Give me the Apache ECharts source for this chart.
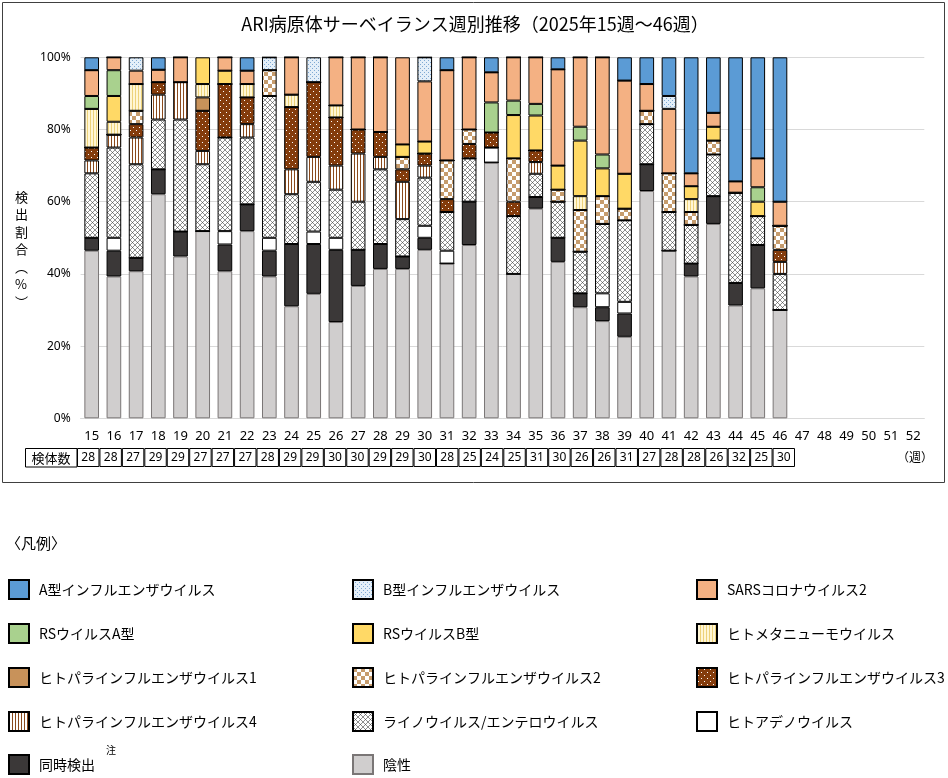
<!DOCTYPE html>
<html><head><meta charset="utf-8">
<script src="https://cdn.jsdelivr.net/npm/echarts@6/dist/echarts.min.js"></script>
<style>html,body{margin:0;padding:0;background:#fff}#c{width:948px;height:778px}</style>
</head><body><div id="c"></div>
<script>
// Weeks shown on the axis
const categories = ['15','16','17','18','19','20','21','22','23','24','25','26','27','28','29','30','31','32','33','34','35','36','37','38','39','40','41','42','43','44','45','46','47','48','49','50','51','52'];
// Table weeks (with data) and specimen counts
const tableWeeks = ['15','16','17','18','19','20','21','22','23','24','25','26','27','28','29','30','31','32','33','34','35','36','37','38','39','40','41','42','43','44','45','46'];
const specimens = [28,28,27,29,29,27,27,27,28,29,29,30,30,29,29,30,28,25,24,25,31,30,26,26,31,27,28,28,26,32,25,30];
// Detection counts per week (weeks 15..46)
const negative = [13,11,11,18,13,14,11,14,11,9,10,8,11,12,12,14,12,12,17,10,18,13,8,7,7,17,13,11,14,10,9,9];
const multiple = [1,2,1,2,2,0,2,2,2,5,4,6,3,2,1,1,0,3,0,0,1,2,1,1,2,2,0,1,2,2,3,0];
const adeno    = [0,1,0,0,0,0,1,0,1,0,1,1,0,0,0,1,1,0,1,0,0,0,0,1,1,0,0,0,0,0,0,0];
const rhino    = [5,7,7,4,9,5,7,5,11,4,4,4,4,6,3,4,3,3,0,4,2,3,3,5,7,3,3,3,3,8,2,3];
const para4    = [1,1,2,2,3,1,0,1,0,2,2,2,4,1,3,1,0,0,0,0,1,0,0,0,0,0,0,0,0,0,0,1];
const para3    = [1,0,1,1,0,3,4,2,0,5,6,4,2,2,1,1,1,1,1,1,1,0,0,0,0,0,0,0,0,0,0,1];
const para1    = [0,0,0,0,0,1,0,0,0,0,0,0,0,0,0,0,0,0,0,0,0,0,0,0,0,0,0,0,0,0,0,0];
const para2    = [0,0,1,0,0,0,0,0,2,0,0,0,0,0,1,0,3,1,0,3,0,1,3,2,1,1,3,1,1,0,0,2];
const metapneumo = [3,1,2,0,0,1,0,1,0,1,0,1,0,0,0,0,0,0,0,0,0,0,1,0,0,0,0,1,0,0,0,0];
const rsvB     = [0,2,0,0,0,2,1,0,0,0,0,0,0,0,1,1,0,0,0,3,3,2,4,2,3,0,0,1,1,0,1,0];
const rsvA     = [1,2,0,0,0,0,0,0,0,0,0,0,0,0,0,0,0,0,2,1,1,0,1,1,0,0,0,0,0,0,1,0];
const sars2    = [2,1,1,1,2,0,1,1,0,3,0,4,6,6,7,5,7,5,2,3,4,8,5,7,8,2,5,1,1,1,2,2];
const fluB     = [0,0,1,0,0,0,0,0,1,0,2,0,0,0,0,2,0,0,0,0,0,0,0,0,0,0,1,0,0,0,0,0];
const fluA     = [1,0,0,1,0,0,0,1,0,0,0,0,0,0,0,0,1,0,1,0,0,1,0,0,2,2,3,9,4,11,7,12];
const yTicks = [0,20,40,60,80,100];
// Legend order (row-major, 3 columns)
const legendOrder = ['A型インフルエンザウイルス','B型インフルエンザウイルス','SARSコロナウイルス2',
  'RSウイルスA型','RSウイルスB型','ヒトメタニューモウイルス',
  'ヒトパラインフルエンザウイルス1','ヒトパラインフルエンザウイルス2','ヒトパラインフルエンザウイルス3',
  'ヒトパラインフルエンザウイルス4','ライノウイルス/エンテロウイルス','ヒトアデノウイルス',
  '同時検出','陰性'];

function pat(w,h,draw){const c=document.createElement('canvas');c.width=w;c.height=h;const g=c.getContext('2d');draw(g,w,h);return {image:c,repeat:'repeat'};}
const P = {
  rhino: pat(5,5,(g,w,h)=>{g.fillStyle='#fff';g.fillRect(0,0,w,h);g.strokeStyle='#333';g.lineWidth=0.55;g.beginPath();g.moveTo(0,0);g.lineTo(w,h);g.moveTo(w,0);g.lineTo(0,h);g.stroke();}),
  checker: pat(8,8,(g)=>{g.fillStyle='#fff';g.fillRect(0,0,8,8);g.fillStyle='#C69C6D';g.fillRect(0,0,4,4);g.fillRect(4,4,4,4);}),
  dots3: pat(6,6,(g)=>{g.fillStyle='#843C0C';g.fillRect(0,0,6,6);g.fillStyle='#fff';g.fillRect(1,1,1,1);g.fillRect(4,4,1,1);}),
  vstripe: pat(3,2,(g)=>{g.fillStyle='#fff';g.fillRect(0,0,3,2);g.fillStyle='#8B4A1C';g.fillRect(0,0,1,2);}),
  meta: pat(3,2,(g)=>{g.fillStyle='#FFF6D5';g.fillRect(0,0,3,2);g.fillStyle='#EDD27A';g.fillRect(0,0,1,2);}),
  bdots: pat(4,4,(g)=>{g.fillStyle='#E4EFF9';g.fillRect(0,0,4,4);g.fillStyle='#7FA9D3';g.fillRect(0,0,1,1);g.fillRect(2,2,1,1);})
};

const defs = [
  ['陰性', negative, '#D0CECE', '#7A7676'],
  ['同時検出', multiple, '#3B3838', '#000'],
  ['ヒトアデノウイルス', adeno, '#FFFFFF', '#000'],
  ['ライノウイルス/エンテロウイルス', rhino, P.rhino, '#000'],
  ['ヒトパラインフルエンザウイルス4', para4, P.vstripe, '#000'],
  ['ヒトパラインフルエンザウイルス3', para3, P.dots3, '#000'],
  ['ヒトパラインフルエンザウイルス2', para2, P.checker, '#000'],
  ['ヒトパラインフルエンザウイルス1', para1, '#C8925A', '#000'],
  ['ヒトメタニューモウイルス', metapneumo, P.meta, '#000'],
  ['RSウイルスB型', rsvB, '#FFD966', '#000'],
  ['RSウイルスA型', rsvA, '#A9D18E', '#000'],
  ['SARSコロナウイルス2', sars2, '#F4B183', '#000'],
  ['B型インフルエンザウイルス', fluB, P.bdots, '#000'],
  ['A型インフルエンザウイルス', fluA, '#5B9BD5', '#000']
];

const font = "'Noto Sans CJK JP', sans-serif";
const narrow = "'Liberation Sans Narrow','Noto Sans', sans-serif";
const series = defs.map(([name, arr, color, bc]) => ({
  name, type:'bar', stack:'total', barWidth:'66%', xAxisIndex:0, yAxisIndex:0,
  itemStyle:{color, borderColor:bc, borderWidth:1},
  emphasis:{disabled:true},
  data: arr.map((c,i)=> c===0 ? 0 : c/specimens[i]*100)
}));
series.push({
  name:'検体数', type:'bar', xAxisIndex:1, yAxisIndex:1, barWidth:'100%',
  itemStyle:{color:'#fff', borderColor:'#000', borderWidth:1},
  emphasis:{disabled:true},
  label:{show:true, position:'inside', color:'#000', fontSize:12, fontFamily:narrow, formatter:(p)=>String(specimens[p.dataIndex])},
  data: specimens.map(()=>1)
});

const colX = [8, 352, 696];
const rowY = [579, 623, 667, 711, 754];
const legends = legendOrder.map((name, k) => ({
  left: colX[k % 3], top: rowY[Math.floor(k / 3)], padding:0,
  orient:'horizontal', itemWidth:20, itemHeight:19, icon:'rect', selectedMode:false,
  textStyle:{fontSize:14, color:'#000', fontFamily:font, padding:[0,0,0,5]},
  data:[name]
}));

const chart = echarts.init(document.getElementById('c'), null, {renderer:'canvas'});
chart.setOption({
  animation:false,
  title:{text:'ARI病原体サーベイランス週別推移（2025年15週～46週）', left:470, textAlign:'center', top:10,
    textStyle:{fontSize:18, fontWeight:'normal', color:'#000', fontFamily:font}},
  grid:[{left:80.6, right:23.7, top:57.3, bottom:359.7},
        {left:77, width:718, top:448, height:19}],
  xAxis:[{type:'category', gridIndex:0, data:categories, axisTick:{show:false},
          axisLine:{lineStyle:{color:'#D9D9D9'}},
          axisLabel:{color:'#000', fontSize:13, margin:11, fontFamily:narrow}},
         {type:'category', gridIndex:1, data:tableWeeks, show:false}],
  yAxis:[{type:'value', gridIndex:0, min:yTicks[0], max:yTicks[yTicks.length-1], interval:20,
          axisLine:{show:false}, axisTick:{show:false},
          splitLine:{lineStyle:{color:'#D9D9D9'}},
          axisLabel:{formatter:'{value}%', color:'#000', fontSize:12, margin:10, fontFamily:narrow}},
         {type:'value', gridIndex:1, min:0, max:1, show:false}],
  legend: legends,
  graphic:[
    {type:'rect', shape:{x:2.5, y:2.5, width:942, height:480}, style:{fill:'none', stroke:'#404040', lineWidth:1}, silent:true, z:-1},
    {type:'text', left:15, top:188, style:{text:'検\n出\n割\n合\n︵\n%\n︶', fontSize:13, lineHeight:17.5, fill:'#000', fontFamily:font, align:'center'}},
    {type:'rect', shape:{x:25.5, y:448.5, width:51.5, height:18.5}, style:{fill:'#fff', stroke:'#000', lineWidth:1}},
    {type:'text', x:51, y:458, style:{text:'検体数', fontSize:13, fill:'#000', fontFamily:font, align:'center', verticalAlign:'middle'}},
    {type:'text', x:915, y:457, style:{text:'（週）', fontSize:12, fill:'#000', fontFamily:font, align:'center', verticalAlign:'middle'}},
    {type:'text', x:6, y:543, style:{text:'〈凡例〉', fontSize:15, fill:'#000', fontFamily:font, verticalAlign:'middle'}},
    {type:'text', x:106, y:750, style:{text:'注', fontSize:10, fill:'#000', fontFamily:font, verticalAlign:'middle'}}
  ],
  series
});
</script></body></html>
